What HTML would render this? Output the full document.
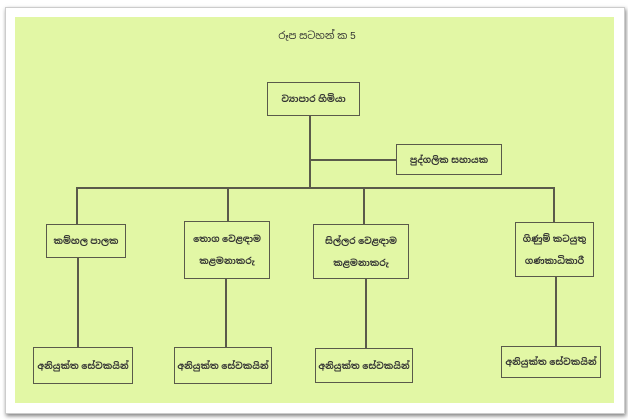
<!DOCTYPE html>
<html><head><meta charset="utf-8"><style>
html,body{margin:0;padding:0;background:#fff;}
body{width:628px;height:420px;position:relative;overflow:hidden;font-family:"Liberation Sans","Noto Sans Sinhala",sans-serif;}
.frame{position:absolute;left:5px;top:7px;width:618px;height:405px;background:#fff;box-shadow:1px 2px 4px rgba(0,0,0,.5);border:1px solid #ccc;}
.green{position:absolute;left:15px;top:17px;width:599px;height:386px;background:#e2f7a5;}
.b{position:absolute;border:1.5px solid #5a5a4a;box-sizing:border-box;display:flex;align-items:center;justify-content:center;text-align:center;font-size:9px;font-weight:bold;color:#333;line-height:22px;}
.h,.v{position:absolute;background:#5a5a4a;}
.h{height:1.5px}.v{width:1.5px}
.t{position:absolute;left:267px;top:29px;width:100px;text-align:center;font-size:10px;color:#333;}
</style></head><body>
<div class="frame"></div>
<div class="green"></div>
<div class="t">රූප සටහන් ක 5</div>
<div class="b" style="left:267px;top:82px;width:93px;height:34px">ව්‍යාපාර හිමියා</div>
<div class="v" style="left:309px;top:116px;height:72px"></div>
<div class="h" style="left:309px;top:159px;width:87px"></div>
<div class="b" style="left:396px;top:144px;width:106px;height:31px">පුද්ගලික සහායක</div>
<div class="h" style="left:76px;top:187px;width:478px"></div>
<div class="v" style="left:76px;top:187px;height:37px"></div>
<div class="v" style="left:227px;top:187px;height:34px"></div>
<div class="v" style="left:363px;top:187px;height:37px"></div>
<div class="v" style="left:553px;top:187px;height:35px"></div>
<div class="b" style="left:46px;top:224px;width:80px;height:34px">කම්හල පාලක</div>
<div class="b" style="left:184px;top:221px;width:86px;height:58px">තොග වෙළඳාම<br>කළමනාකරු</div>
<div class="b" style="left:313px;top:224px;width:96px;height:55px">සිල්ලර වෙළඳාම<br>කළමනාකරු</div>
<div class="b" style="left:515px;top:222px;width:79px;height:55px">ගිණුම් කටයුතු<br>ගණකාධිකාරී</div>
<div class="v" style="left:77px;top:258px;height:89px"></div>
<div class="v" style="left:225px;top:279px;height:68px"></div>
<div class="v" style="left:365px;top:279px;height:69px"></div>
<div class="v" style="left:555px;top:277px;height:69px"></div>
<div class="b" style="left:33px;top:347px;width:100px;height:37px">අනියුක්ත සේවකයින්</div>
<div class="b" style="left:174px;top:347px;width:98px;height:37px">අනියුක්ත සේවකයින්</div>
<div class="b" style="left:315px;top:348px;width:98px;height:35px">අනියුක්ත සේවකයින්</div>
<div class="b" style="left:501px;top:346px;width:100px;height:32px">අනියුක්ත සේවකයින්</div>
</body></html>
